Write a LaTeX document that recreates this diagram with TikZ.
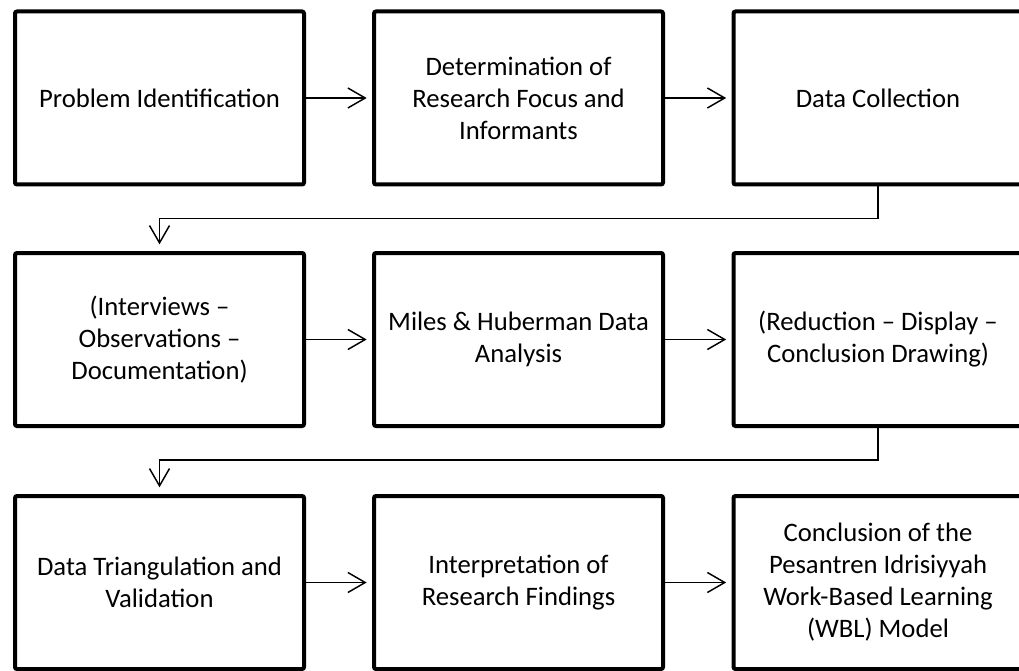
\documentclass[tikz,border=0pt]{standalone}
\usepackage{fontspec}
\setmainfont{Carlito}
\usetikzlibrary{arrows.meta}

\tikzset{every picture/.style={line width=0.75pt}}
\tikzset{
  procbox/.style={draw, line width=3pt, rounded corners=1.5pt, minimum width=216.75pt, minimum height=129.75pt, align=center, inner sep=0pt, font=\fontsize{20}{24}\selectfont},
  flowarrow/.style={line width=1.1pt, -{Straight Barb[length=13pt,width=15pt,line width=1.1pt]}, shorten >=4pt}
}

\begin{document}
\begin{tikzpicture}[x=0.75pt,y=0.75pt,yscale=-1,xscale=1]
\useasboundingbox (0,0) rectangle (1019,670);

%Flowchart: Process -- first row
\node [procbox] (probid) at (159.5,98) {Problem Identification};
\node [procbox] (focus) at (518.5,98) {Determination of\\Research Focus and\\Informants};
\node [procbox] (collect) at (878,98) {Data Collection};

%Flowchart: Process -- second row
\node [procbox] (techniques) at (159.5,339.5) {(Interviews –\\Observations –\\Documentation)};
\node [procbox] (analysis) at (518.5,339.5) {Miles \& Huberman Data\\Analysis};
\node [procbox] (steps) at (878,339.5) {(Reduction – Display –\\Conclusion Drawing)};

%Flowchart: Process -- third row
\node [procbox] (triang) at (159.5,582.5) {Data Triangulation and\\Validation};
\node [procbox] (interp) at (518.5,582.5) {Interpretation of\\Research Findings};
\node [procbox] (wbl) at (878,582.5) {Conclusion of the\\Pesantren Idrisiyyah\\Work-Based Learning\\(WBL) Model};

%Straight Lines
\draw [flowarrow] (probid) -- (focus);
\draw [flowarrow] (focus) -- (collect);
\draw [flowarrow] (techniques) -- (analysis);
\draw [flowarrow] (analysis) -- (steps);
\draw [flowarrow] (triang) -- (interp);
\draw [flowarrow] (interp) -- (wbl);

%Elbow Lines
\draw [flowarrow, shorten >=5pt] (collect.south) -- ++(0,32) -| (techniques.north);
\draw [flowarrow, shorten >=5pt] (steps.south) -- ++(0,32) -| (triang.north);

\end{tikzpicture}
\end{document}
